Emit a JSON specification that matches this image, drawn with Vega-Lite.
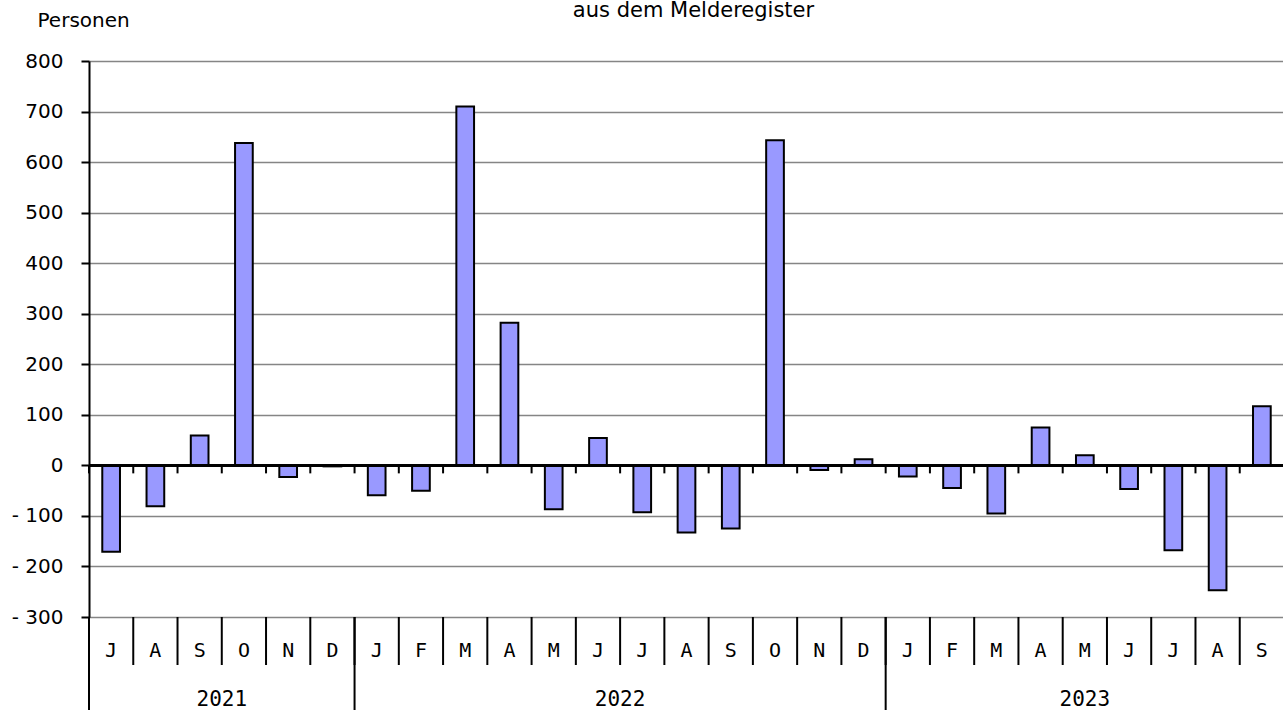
{
  "$schema": "https://vega.github.io/schema/vega-lite/v6.json",
  "width": 1195,
  "height": 556,
  "autosize": "none",
  "padding": {"left": 89, "top": 61, "right": 0, "bottom": 93},
  "background": "white",
  "config": {"view": {"stroke": null}, "font": "DejaVu Sans"},
  "title": {
    "text": "aus dem Melderegister",
    "font": "DejaVu Sans",
    "fontSize": 21,
    "fontWeight": "normal",
    "color": "black",
    "anchor": "middle",
    "offset": 0,
    "dy": 11,
    "dx": 7
  },
  "datasets": {
    "salden": [
      {"m": "2021-07", "v": -171},
      {"m": "2021-08", "v": -81},
      {"m": "2021-09", "v": 59},
      {"m": "2021-10", "v": 638},
      {"m": "2021-11", "v": -23},
      {"m": "2021-12", "v": -2},
      {"m": "2022-01", "v": -59},
      {"m": "2022-02", "v": -50},
      {"m": "2022-03", "v": 710},
      {"m": "2022-04", "v": 282},
      {"m": "2022-05", "v": -87},
      {"m": "2022-06", "v": 54},
      {"m": "2022-07", "v": -93},
      {"m": "2022-08", "v": -133},
      {"m": "2022-09", "v": -125},
      {"m": "2022-10", "v": 643},
      {"m": "2022-11", "v": -9},
      {"m": "2022-12", "v": 12},
      {"m": "2023-01", "v": -22},
      {"m": "2023-02", "v": -45},
      {"m": "2023-03", "v": -95},
      {"m": "2023-04", "v": 75},
      {"m": "2023-05", "v": 20},
      {"m": "2023-06", "v": -47},
      {"m": "2023-07", "v": -168},
      {"m": "2023-08", "v": -247},
      {"m": "2023-09", "v": 117}
    ],
    "nulllinie": [
      {"m": "2021-07", "null": 0}, {"m": "2021-08", "null": 0}, {"m": "2021-09", "null": 0},
      {"m": "2021-10", "null": 0}, {"m": "2021-11", "null": 0}, {"m": "2021-12", "null": 0},
      {"m": "2022-01", "null": 0}, {"m": "2022-02", "null": 0}, {"m": "2022-03", "null": 0},
      {"m": "2022-04", "null": 0}, {"m": "2022-05", "null": 0}, {"m": "2022-06", "null": 0},
      {"m": "2022-07", "null": 0}, {"m": "2022-08", "null": 0}, {"m": "2022-09", "null": 0},
      {"m": "2022-10", "null": 0}, {"m": "2022-11", "null": 0}, {"m": "2022-12", "null": 0},
      {"m": "2023-01", "null": 0}, {"m": "2023-02", "null": 0}, {"m": "2023-03", "null": 0},
      {"m": "2023-04", "null": 0}, {"m": "2023-05", "null": 0}, {"m": "2023-06", "null": 0},
      {"m": "2023-07", "null": 0}, {"m": "2023-08", "null": 0}, {"m": "2023-09", "null": 0}
    ],
    "jahresgrenzen": [{"m": "2021-07"}, {"m": "2022-01"}, {"m": "2023-01"}],
    "jahre_a": [{"m": "2021-10", "jahr": "2021"}, {"m": "2022-07", "jahr": "2022"}],
    "jahre_b": [{"m": "2023-05", "jahr": "2023"}]
  },
  "layer": [
    {
      "data": {"name": "salden"},
      "mark": {"type": "bar", "fill": "#9999ff", "stroke": "black", "strokeWidth": 2},
      "encoding": {
        "x": {
          "field": "m", "type": "ordinal", "sort": null,
          "scale": {
            "domain": ["2021-07","2021-08","2021-09","2021-10","2021-11","2021-12","2022-01","2022-02","2022-03","2022-04","2022-05","2022-06","2022-07","2022-08","2022-09","2022-10","2022-11","2022-12","2023-01","2023-02","2023-03","2023-04","2023-05","2023-06","2023-07","2023-08","2023-09"],
            "paddingInner": 0.6, "paddingOuter": 0.3
          },
          "axis": {
            "orient": "bottom", "title": null, "domain": false, "grid": false, "ticks": false,
            "labelExpr": "['J','F','M','A','M','J','J','A','S','O','N','D'][toNumber(slice(datum.value,5))-1]",
            "labelFont": "DejaVu Sans Mono", "labelFontSize": 20, "labelColor": "black",
            "labelBaseline": "middle", "labelPadding": 33, "labelAngle": 0
          }
        },
        "y": {
          "field": "v", "type": "quantitative",
          "scale": {"domain": [-300, 800], "nice": false},
          "axis": {
            "values": [-300,-200,-100,0,100,200,300,400,500,600,700,800],
            "grid": true, "gridColor": "#858585", "gridWidth": 1.5,
            "domain": true, "domainColor": "black", "domainWidth": 2,
            "ticks": true, "tickColor": "black", "tickSize": 8, "tickWidth": 2,
            "labelExpr": "replace(datum.label, '−', '- ')",
            "labelFont": "DejaVu Sans", "labelFontSize": 20, "labelColor": "black", "labelPadding": 18,
            "title": "Personen", "titleAngle": 0, "titleAlign": "left", "titleBaseline": "middle",
            "titleX": -52, "titleY": -41, "titleFont": "DejaVu Sans", "titleFontSize": 20,
            "titleFontWeight": "normal", "titleColor": "black"
          }
        }
      }
    },
    {
      "data": {"name": "nulllinie"},
      "mark": {"type": "rule", "color": "black", "strokeWidth": 2},
      "encoding": {"y": {"field": "null", "type": "quantitative"}}
    },
    {
      "data": {"name": "nulllinie"},
      "mark": {"type": "tick", "orient": "vertical", "color": "black", "opacity": 1, "size": 8, "thickness": 2, "xOffset": -22.13, "yOffset": 4},
      "encoding": {
        "x": {"field": "m", "type": "ordinal", "sort": null},
        "y": {"field": "null", "type": "quantitative"}
      }
    },
    {
      "data": {"name": "nulllinie"},
      "mark": {"type": "tick", "orient": "vertical", "color": "black", "opacity": 1, "size": 48, "thickness": 2, "xOffset": -22.13, "yOffset": 24},
      "encoding": {
        "x": {"field": "m", "type": "ordinal", "sort": null},
        "y": {"value": "height"}
      }
    },
    {
      "data": {"name": "jahresgrenzen"},
      "mark": {"type": "tick", "orient": "vertical", "color": "black", "opacity": 1, "size": 93, "thickness": 2, "xOffset": -22.13, "yOffset": 46.5},
      "encoding": {
        "x": {"field": "m", "type": "ordinal", "sort": null},
        "y": {"value": "height"}
      }
    },
    {
      "data": {"name": "jahre_a"},
      "mark": {"type": "text", "font": "DejaVu Sans Mono", "fontSize": 21, "color": "black", "baseline": "middle", "align": "center", "dx": -22.13, "dy": 83},
      "encoding": {
        "x": {"field": "m", "type": "ordinal", "sort": null},
        "y": {"value": "height"},
        "text": {"field": "jahr"}
      }
    },
    {
      "data": {"name": "jahre_b"},
      "mark": {"type": "text", "font": "DejaVu Sans Mono", "fontSize": 21, "color": "black", "baseline": "middle", "align": "center", "dy": 83},
      "encoding": {
        "x": {"field": "m", "type": "ordinal", "sort": null},
        "y": {"value": "height"},
        "text": {"field": "jahr"}
      }
    }
  ]
}
